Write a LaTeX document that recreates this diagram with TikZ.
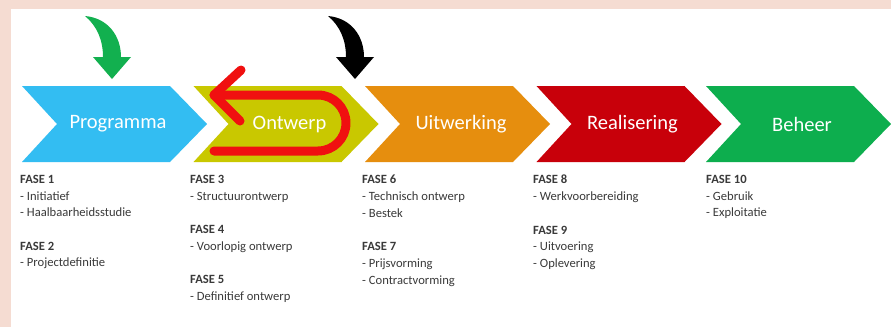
\documentclass[tikz,border=0pt]{standalone}
\usepackage{fontspec}
\setmainfont{Carlito}
\definecolor{bgpink}{HTML}{F5DCD2}
\definecolor{cblue}{HTML}{33BDF2}
\definecolor{cyel}{HTML}{C9C800}
\definecolor{corange}{HTML}{E68E0E}
\definecolor{cred}{HTML}{C8000A}
\definecolor{cgreen}{HTML}{0DAE4E}
\definecolor{garrow}{HTML}{12B04F}
\definecolor{txt}{HTML}{3A3A3A}
\definecolor{uturn}{HTML}{F01010}
\tikzset{
  lbl/.style={text=white, font=\fontsize{20.5}{24}\selectfont, inner sep=0pt},
  col/.style={anchor=north west, align=left, inner sep=0pt, text=txt, font=\fontsize{12.6}{16.7}\selectfont},
  uarrow/.style={draw=uturn, line width=9pt, line cap=round, line join=round}
}
\begin{document}
\begin{tikzpicture}[x=1pt,y=-1pt]
\useasboundingbox (0,0) rectangle (891,327);
\fill[bgpink] (0,0) rectangle (891,327);
\fill[white] (11,9) rectangle (891,327);

\foreach \x/\c in {22/cblue, 193.5/cyel, 365/corange, 536.5/cred, 706/cgreen} {
  \fill[\c] (\x,86) -- ++(148,0) -- ++(37,38) -- ++(-37,38) -- ++(-148,0) -- ++(35,-38) -- cycle;
}

% red U-turn arrow
\coordinate (ut) at (214,95);
\coordinate (ua) at (241,70);
\coordinate (ub) at (240,121);
\coordinate (ur) at (318,95);
\coordinate (ue) at (214,151);
\draw[uarrow] (ua) -- (ut) -- (ub);
\draw[uarrow] (ut) -- (ur) arc[start angle=-90, end angle=90, radius=28] -- (ue);

\foreach \x/\t/\n in {22/Programma/p1, 193.5/Ontwerp/p2, 365/Uitwerking/p3, 536.5/Realisering/p4, 706/Beheer/p5} {
  \node[lbl] (\n) at (\x+96,124) {\t};
}

% curved arrows
\fill[garrow] (85,16) .. controls (108,18) and (121,36) .. (121,57) -- (131,57) -- (112,79) -- (93,57) -- (103,57) .. controls (103,40) and (97,26) .. (85,16) -- cycle;
\fill[black] (328,16) .. controls (351,18) and (364,36) .. (364,57) -- (374,57) -- (355,79) -- (336,57) -- (346,57) .. controls (346,40) and (340,26) .. (328,16) -- cycle;

% phase texts
\node[col] (t1) at (20,175) {\textbf{FASE 1}\\- Initiatief\\- Haalbaarheidsstudie\\[16.7pt]\textbf{FASE 2}\\- Projectdefinitie};
\node[col] (t2) at (190,175) {\textbf{FASE 3}\\- Structuurontwerp\\[16.7pt]\textbf{FASE 4}\\- Voorlopig ontwerp\\[16.7pt]\textbf{FASE 5}\\- Definitief ontwerp};
\node[col] (t3) at (362,175) {\textbf{FASE 6}\\- Technisch ontwerp\\- Bestek\\[16.7pt]\textbf{FASE 7}\\- Prijsvorming\\- Contractvorming};
\node[col] (t4) at (533,175) {\textbf{FASE 8}\\- Werkvoorbereiding\\[16.7pt]\textbf{FASE 9}\\- Uitvoering\\- Oplevering};
\node[col] (t5) at (706,175) {\textbf{FASE 10}\\- Gebruik\\- Exploitatie};
\end{tikzpicture}
\end{document}
